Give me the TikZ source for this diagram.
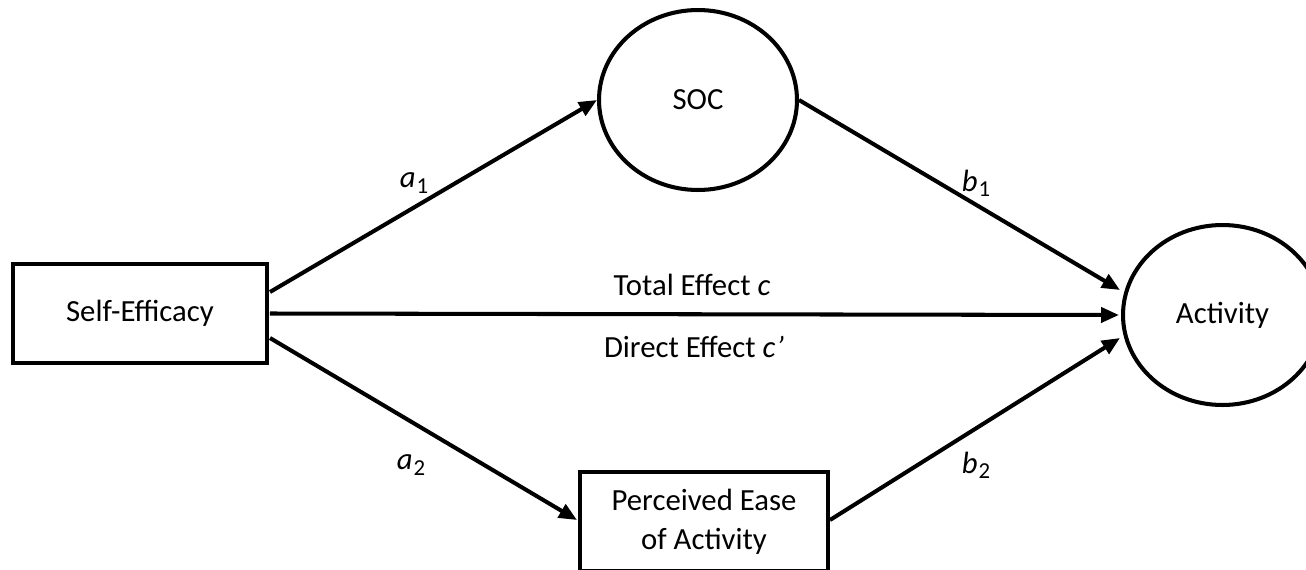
\documentclass[tikz,border=0pt]{standalone}
\usepackage{fontspec}
\setmainfont{Carlito}
\usetikzlibrary{shapes.geometric,arrows.meta}
\newcommand{\lblsub}[2]{\textit{#1}\kern0.5pt\raisebox{-0.35ex}{\fontsize{13}{13}\selectfont #2}}
\begin{document}
\begin{tikzpicture}[x=0.02cm,y=-0.02cm,
  every node/.style={font=\fontsize{17.5}{22}\selectfont},
  boxnode/.style={draw,line width=2.3pt,rectangle,inner sep=0pt,align=center},
  ellnode/.style={draw,line width=2.3pt,ellipse,inner sep=0pt},
  conn/.style={line width=2.3pt,-{Triangle[length=0.36cm,width=0.3cm]}},
  lbl/.style={inner sep=0pt}]
\useasboundingbox (0,0) rectangle (1306,569);
\node[boxnode,minimum width=5.08cm,minimum height=1.98cm] (self) at (140,313.5) {Self-Efficacy};
\node[ellnode,minimum width=3.96cm,minimum height=3.6cm] (soc) at (698,100) {SOC};
\node[ellnode,minimum width=3.98cm,minimum height=3.6cm] (act) at (1222.5,315) {Activity};
\node[boxnode,minimum width=4.96cm,minimum height=1.98cm] (pea) at (704,521.5) {\raisebox{0pt}{Perceived Ease}\\of Activity};
\draw[conn] ([shift={(1,-21.5)}]self.east) -- (soc.west);
\draw[conn] ([shift={(1,0)}]self.east) -- ([shift={(-2,0)}]act.west);
\draw[conn] ([shift={(1,24.5)}]self.east) -- ([shift={(-1,-1.5)}]pea.west);
\draw[conn] (soc.east) -- ([shift={(-1,-25)}]act.west);
\draw[conn] ([shift={(0,-1.5)}]pea.east) -- ([shift={(-1,23)}]act.west);
\node[lbl] (la1) at (414,183) {\lblsub{a}{1}};
\node[lbl] (lb1) at (976,183) {\lblsub{b}{1}};
\node[lbl] (la2) at (411,465) {\lblsub{a}{2}};
\node[lbl] (lb2) at (976,465) {\lblsub{b}{2}};
\node[lbl] (ltot) at (692,285) {Total Effect \textit{c}};
\node[lbl] (ldir) at (694,347) {Direct Effect \textit{c\kern0.5pt’}};
\end{tikzpicture}
\end{document}
